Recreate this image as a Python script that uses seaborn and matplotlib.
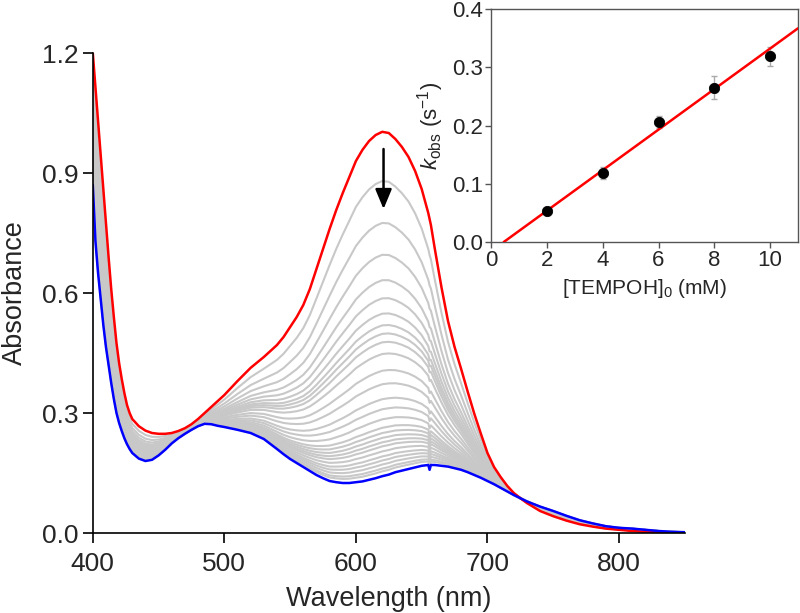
import numpy as np
import pandas as pd
import matplotlib
matplotlib.use('Agg')
import matplotlib.pyplot as plt
import seaborn as sns

# spectra (wavelength in nm, absorbance)
wavelength = [400, 402, 404, 406, 408, 410, 412, 414, 416, 418, 420, 422, 424, 426, 428, 430,
              435, 440, 445, 450, 455, 460, 465, 470, 475, 480, 485, 490, 495, 500,
              510, 520, 530,
              540, 545, 550, 555, 560, 565, 570, 575, 580, 585, 590, 595, 600, 605, 610,
              615, 620, 625, 630, 635, 640, 645, 650, 655,
              656, 657,
              660, 665, 670, 675, 680, 685, 690, 695, 700, 705, 710, 715, 720, 725, 730,
              740, 750, 760, 770, 780, 790, 800, 810, 820, 830, 840, 850]
abs_initial = [1.20, 1.115, 1.03, 0.945, 0.86, 0.775, 0.69, 0.61, 0.54, 0.475, 0.425, 0.385,
               0.35, 0.32, 0.30, 0.285,
               0.267, 0.256, 0.25, 0.248, 0.248, 0.25, 0.255, 0.262, 0.272, 0.285, 0.30,
               0.315, 0.33, 0.345,
               0.38, 0.413, 0.44,
               0.47, 0.49, 0.515, 0.54, 0.57, 0.61, 0.66, 0.71, 0.76, 0.807, 0.85, 0.89,
               0.93, 0.958, 0.98, 0.995, 1.003, 1.0, 0.985, 0.965, 0.94, 0.905, 0.86, 0.80,
               0.785, 0.77,
               0.71, 0.615, 0.53, 0.465, 0.41, 0.353, 0.298, 0.248, 0.20, 0.165, 0.14,
               0.118, 0.10, 0.087, 0.075,
               0.055, 0.042, 0.031, 0.022, 0.016, 0.011, 0.008, 0.005, 0.003, 0.002,
               0.001, 0.0]
abs_final = [0.87, 0.73, 0.65, 0.585, 0.52, 0.465, 0.42, 0.375, 0.335, 0.30, 0.275, 0.255,
             0.237, 0.222, 0.21, 0.20,
             0.186, 0.18, 0.183, 0.194, 0.208, 0.224, 0.237, 0.248, 0.258, 0.267, 0.273,
             0.272, 0.268, 0.265,
             0.258, 0.25, 0.235,
             0.21, 0.197, 0.185, 0.175, 0.165, 0.155, 0.145, 0.137, 0.13, 0.127, 0.125,
             0.125, 0.127, 0.129, 0.133, 0.137, 0.142, 0.146, 0.152, 0.156, 0.16, 0.164,
             0.168, 0.17,
             0.158, 0.17,
             0.17, 0.168, 0.166, 0.162, 0.158, 0.152, 0.145, 0.138, 0.13, 0.122, 0.113,
             0.104, 0.095, 0.087, 0.079,
             0.066, 0.055, 0.043, 0.032, 0.024, 0.017, 0.013, 0.011, 0.008, 0.005,
             0.003, 0.002]

# peak absorbance (625 nm) of the intermediate traces
peak_intermediate = [0.878, 0.774, 0.695, 0.632, 0.587, 0.549, 0.52, 0.499, 0.478,
                     0.449, 0.4075, 0.374, 0.337, 0.312, 0.287, 0.266, 0.253, 0.241,
                     0.23, 0.22, 0.2075, 0.195, 0.185, 0.175, 0.165, 0.158]

# inset: kobs vs [TEMPOH]0
tempoh = [2, 4, 6, 8, 10]
kobs = [0.054, 0.118, 0.206, 0.265, 0.319]
kobs_err = [0.004, 0.01, 0.01, 0.02, 0.016]
fit_x = [0.45, 11.0]
fit_y = [0.0, 0.367]

sns.set_style('ticks')
plt.rcParams['font.family'] = ['Liberation Sans', 'DejaVu Sans']
plt.rcParams['mathtext.fontset'] = 'custom'
plt.rcParams['mathtext.rm'] = 'Liberation Sans'
plt.rcParams['mathtext.it'] = 'Liberation Sans:italic'

fig = plt.figure(figsize=(8, 6.13), dpi=100)
ax = fig.add_axes([0.116, 0.1305, 0.74, 0.783])

# intermediate traces: isosbestic mixing of initial and final spectra
red = np.array(abs_initial)
blue = np.array(abs_final)
i625 = wavelength.index(625)
rows = []
for n, p in enumerate(peak_intermediate):
    f = (p - blue[i625]) / (red[i625] - blue[i625])
    for w, a in zip(wavelength, blue + f * (red - blue)):
        rows.append({'trace': n, 'wl': w, 'A': a})
gray = pd.DataFrame(rows)

sns.lineplot(data=gray, x='wl', y='A', units='trace', estimator=None,
             color='#c8c8c8', linewidth=1.5, ax=ax, sort=False)
sns.lineplot(x=wavelength, y=abs_initial, color='#ff0000', linewidth=1.8, ax=ax,
             estimator=None, sort=False)
sns.lineplot(x=wavelength, y=abs_final, color='#0000ff', linewidth=1.8, ax=ax,
             estimator=None, sort=False)

ax.annotate('', xy=(621, 0.81), xytext=(621, 0.96),
            arrowprops=dict(arrowstyle='-|>,head_length=1.2,head_width=0.5',
                            color='black', lw=1.8, shrinkA=0, shrinkB=0))

ax.set_xlim(400, 850)
ax.set_ylim(0, 1.2)
ax.set_xticks([400, 500, 600, 700, 800])
ax.set_yticks([0.0, 0.3, 0.6, 0.9, 1.2])
ax.set_yticklabels(['0.0', '0.3', '0.6', '0.9', '1.2'])
ax.set_xlabel('Wavelength (nm)', fontsize=19.5, labelpad=7)
ax.set_ylabel('Absorbance', fontsize=19.5, labelpad=10)
ax.tick_params(labelsize=19, length=7, width=1.2, direction='out', color='black', pad=3)
ax.tick_params(axis='x', pad=7)
for s in ['left', 'bottom']:
    ax.spines[s].set_linewidth(1.2)
    ax.spines[s].set_color('black')
sns.despine(ax=ax)

# inset
ins = fig.add_axes([0.614, 0.6052, 0.3835, 0.380])
ins.errorbar(tempoh, kobs, yerr=kobs_err, fmt='none', ecolor='#aaaaaa',
             elinewidth=1, capsize=2, zorder=2)
sns.lineplot(x=fit_x, y=fit_y, color='#ff0000', linewidth=1.8, ax=ins, zorder=3)
sns.scatterplot(x=tempoh, y=kobs, color='black', s=55, edgecolor='black', ax=ins,
                zorder=4)
ins.set_xlim(0, 11)
ins.set_ylim(0, 0.4)
ins.set_xticks([0, 2, 4, 6, 8, 10])
ins.set_yticks([0.0, 0.1, 0.2, 0.3, 0.4])
ins.set_yticklabels(['0.0', '0.1', '0.2', '0.3', '0.4'])
ins.set_xlabel(r'[TEMPOH]$_0$ (mM)', fontsize=15, labelpad=4)
ins.set_ylabel(r'$k_{\mathrm{obs}}$ (s$^{-1}$)', fontsize=16, labelpad=4)
ins.tick_params(labelsize=16, length=4, width=1, direction='out', color='#555555', pad=2)
for s in ins.spines.values():
    s.set_color('#555555')
    s.set_linewidth(1)

fig.savefig('out.png', dpi=100)
